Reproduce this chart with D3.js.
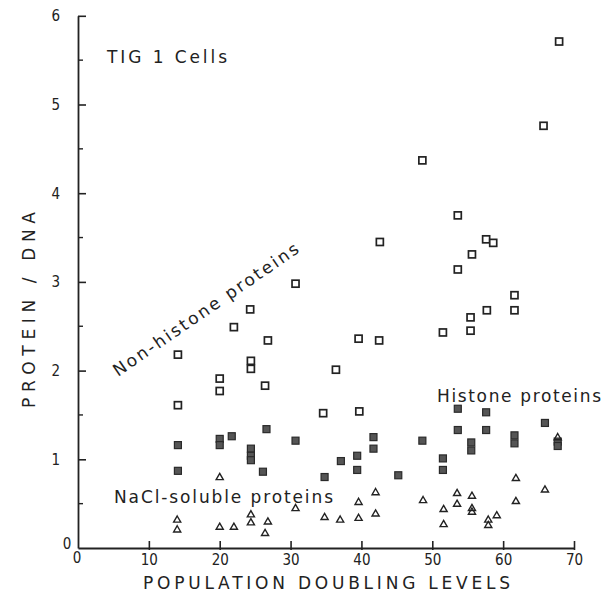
<!DOCTYPE html>
<html><head><meta charset="utf-8">
<script src="https://cdn.jsdelivr.net/npm/d3@7"></script>
<style>
html,body{margin:0;padding:0;background:#fff;}
text{font-family:"DejaVu Sans",sans-serif;fill:#222;}
.tick text{font-family:"DejaVu Sans Condensed","DejaVu Sans",sans-serif;}
</style></head>
<body>
<svg id="chart" width="605" height="596"></svg>
<script>
// Non-histone proteins (open squares)
const nonHistoneX = [14.1,14.1,20.0,20.0,22.0,24.3,24.4,24.4,26.8,26.4,30.7,34.6,36.4,39.6,39.7,42.6,42.5,48.6,51.5,53.6,53.6,55.6,55.4,55.4,57.6,58.6,57.7,61.6,61.6,65.7,67.9];
const nonHistoneY = [2.18,1.61,1.91,1.77,2.49,2.69,2.11,2.02,2.34,1.83,2.98,1.52,2.01,2.36,1.54,3.45,2.34,4.37,2.43,3.75,3.14,3.31,2.60,2.45,3.48,3.44,2.68,2.85,2.68,4.76,5.71];
// Histone proteins (filled squares)
const histoneX = [14.1,14.1,20.0,20.0,21.7,24.4,24.4,24.4,26.1,26.6,30.7,34.8,37.1,39.4,39.4,41.7,41.7,45.2,48.6,51.5,51.5,53.6,53.6,55.5,55.5,57.6,57.6,61.6,61.6,65.9,67.7,67.7];
const histoneY = [1.16,0.87,1.23,1.16,1.26,1.12,1.04,0.99,0.86,1.34,1.21,0.80,0.98,1.04,0.88,1.25,1.12,0.82,1.21,1.01,0.88,1.57,1.33,1.19,1.10,1.53,1.33,1.27,1.18,1.41,1.20,1.15];
// NaCl-soluble proteins (open triangles)
const naclX = [14.0,14.0,20.0,20.0,22.0,24.4,24.4,26.8,26.4,30.7,34.8,37.0,39.6,39.6,42.0,42.0,48.7,51.6,51.6,53.5,53.5,55.6,55.6,55.6,57.9,57.9,59.1,61.8,61.8,65.9,67.7];
const naclY = [0.32,0.21,0.80,0.24,0.24,0.38,0.29,0.30,0.17,0.45,0.35,0.32,0.52,0.34,0.63,0.39,0.54,0.44,0.27,0.62,0.50,0.59,0.45,0.41,0.32,0.26,0.37,0.79,0.53,0.66,1.25];

const xTicks = [0,10,20,30,40,50,60,70];
const yTicks = [0,1,2,3,4,5,6];
const yMinorTicks = [0.5,1.5,2.5,3.5,4.5,5.5];

const svg = d3.select("#chart");
const x = d3.scaleLinear().domain([0,70]).range([78,574]);
const y = d3.scaleLinear().domain([0,6]).range([548,15.8]);
const ink = "#222";

// Axes
const gx = svg.append("g").attr("transform",`translate(0,${y(0)})`)
  .call(d3.axisBottom(x).tickValues(xTicks.filter(d=>d>0)).tickSizeInner(-7).tickSizeOuter(0).tickPadding(6).tickFormat(d3.format("d")));
gx.select(".domain").attr("stroke",ink).attr("stroke-width",1.8);
gx.selectAll(".tick line").attr("stroke",ink).attr("stroke-width",1.6).attr("y2",-7).attr("y1",2);
gx.selectAll(".tick text").attr("font-size",15).attr("fill",ink);

const gy = svg.append("g").attr("transform",`translate(${x(0)},0)`)
  .call(d3.axisLeft(y).tickValues(yTicks.filter(d=>d>0)).tickSizeInner(-8).tickSizeOuter(0).tickPadding(18).tickFormat(d3.format("d")));
gy.select(".domain").attr("stroke",ink).attr("stroke-width",1.8);
gy.selectAll(".tick line").attr("stroke",ink).attr("stroke-width",1.6);
gy.selectAll(".tick text").attr("font-size",15).attr("fill",ink);
gy.selectAll(".minor").data(yMinorTicks).enter().append("line")
  .attr("x1",0).attr("x2",5).attr("y1",d=>y(d)).attr("y2",d=>y(d))
  .attr("stroke",ink).attr("stroke-width",1.4);

// zero labels
svg.append("text").attr("x",x(0)-11).attr("y",y(0)+1).attr("font-size",15).attr("text-anchor","middle")
  .style("font-family","'DejaVu Sans Condensed','DejaVu Sans',sans-serif").text("0");
svg.append("text").attr("x",x(0)-1).attr("y",y(0)+15).attr("font-size",15).attr("text-anchor","middle")
  .style("font-family","'DejaVu Sans Condensed','DejaVu Sans',sans-serif").text("0");

// Markers
const s = 7;
svg.append("g").selectAll("rect").data(d3.range(nonHistoneX.length)).enter().append("rect")
  .attr("x",i=>x(nonHistoneX[i])-s/2).attr("y",i=>y(nonHistoneY[i])-s/2)
  .attr("width",s).attr("height",s).attr("fill","#fff").attr("stroke",ink).attr("stroke-width",1.7);
svg.append("g").selectAll("rect").data(d3.range(histoneX.length)).enter().append("rect")
  .attr("x",i=>x(histoneX[i])-s/2).attr("y",i=>y(histoneY[i])-s/2)
  .attr("width",s).attr("height",s).attr("fill","#555").attr("stroke","#2a2a2a").attr("stroke-width",1.2);
const tri = d3.symbol().type(d3.symbolTriangle).size(22);
svg.append("g").selectAll("path").data(d3.range(naclX.length)).enter().append("path")
  .attr("d",tri).attr("transform",i=>`translate(${x(naclX[i])},${y(naclY[i])+0.5})`)
  .attr("fill","none").attr("stroke",ink).attr("stroke-width",1.4);

// Labels
const fs = 17;
svg.append("text").attr("x",107).attr("y",63).attr("font-size",fs)
  .attr("textLength",120).attr("lengthAdjust","spacing").text("TIG 1  Cells");
svg.append("text").attr("transform","translate(118,377) rotate(-34.5)").attr("font-size",fs)
  .attr("textLength",221).attr("lengthAdjust","spacing").text("Non-histone proteins");
svg.append("text").attr("x",437).attr("y",402).attr("font-size",fs)
  .attr("textLength",164).attr("lengthAdjust","spacing").text("Histone proteins");
svg.append("text").attr("x",114).attr("y",503).attr("font-size",fs)
  .attr("textLength",219).attr("lengthAdjust","spacing").text("NaCl-soluble proteins");
svg.append("text").attr("x",143).attr("y",589).attr("font-size",fs)
  .attr("textLength",367).attr("lengthAdjust","spacing").text("POPULATION  DOUBLING  LEVELS");
svg.append("text").attr("transform","translate(35,408) rotate(-90)").attr("font-size",fs)
  .attr("textLength",196).attr("lengthAdjust","spacing").text("PROTEIN  /  DNA");
</script>
</body></html>
